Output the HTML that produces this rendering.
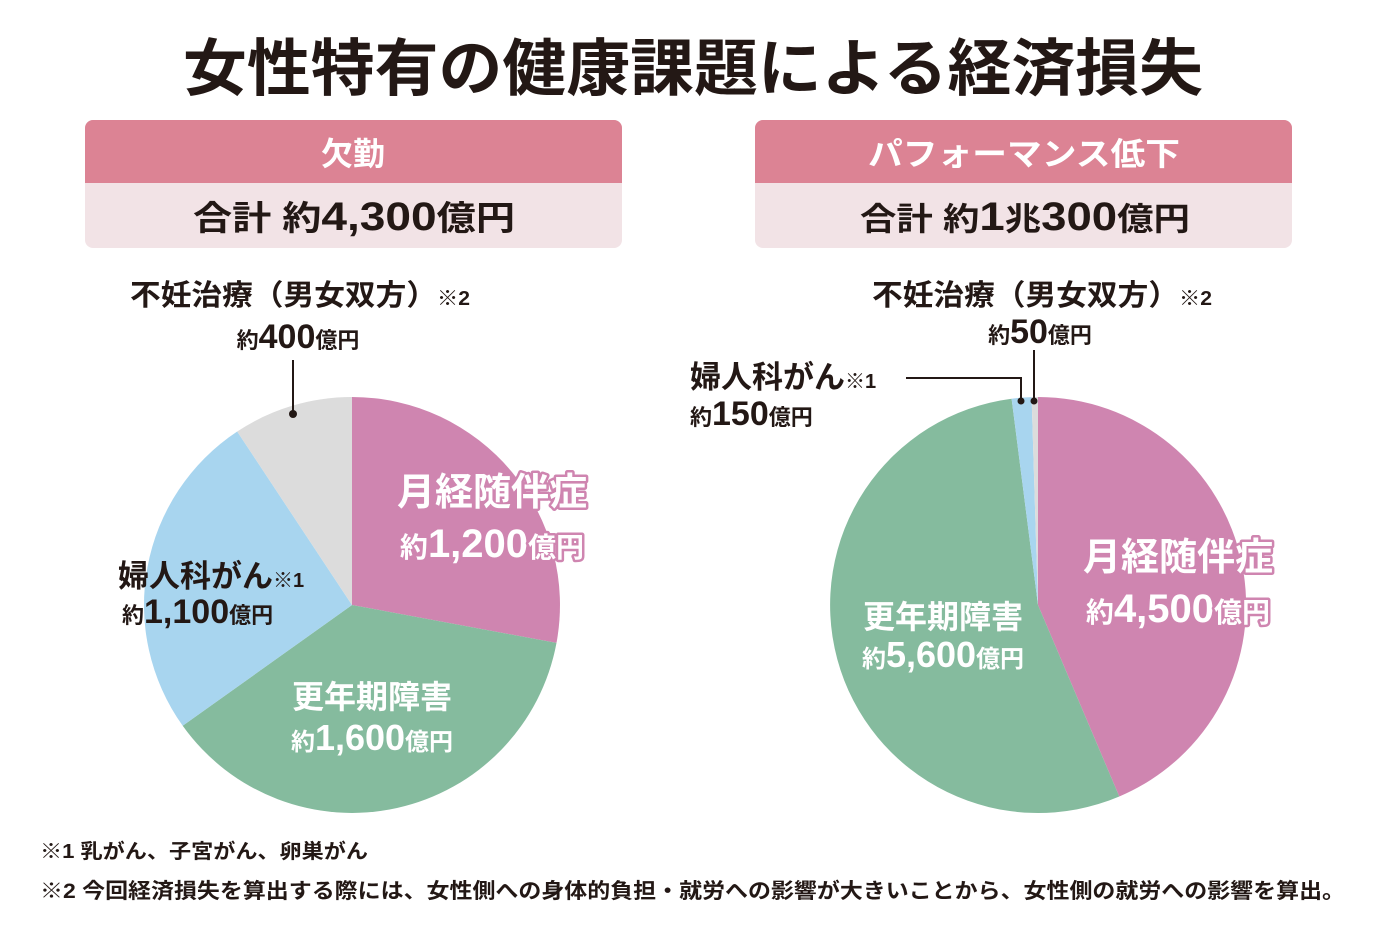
<!DOCTYPE html>
<html><head><meta charset="utf-8"><style>
html,body{margin:0;padding:0;background:#fff}
svg{display:block}
text{font-family:"Liberation Sans","Noto Sans CJK JP",sans-serif;font-weight:bold}
.o{fill:#fff;stroke:#cf85b0;stroke-width:5;paint-order:stroke;stroke-linejoin:round}
</style></head><body>
<svg width="1400" height="933" viewBox="0 0 1400 933" xmlns="http://www.w3.org/2000/svg">
<text x="183" y="90" font-size="62" textLength="1020" lengthAdjust="spacingAndGlyphs" fill="#231815">女性特有の健康課題による経済損失</text>

<rect x="85" y="120" width="537" height="128" rx="8" fill="#f2e3e6"/>
<path d="M93 120 H614 A8 8 0 0 1 622 128 V183 H85 V128 A8 8 0 0 1 93 120Z" fill="#dc8394"/>
<text x="353" y="165" font-size="32" text-anchor="middle" fill="#fff">欠勤</text>
<text x="193" y="230" font-size="34" textLength="322" lengthAdjust="spacingAndGlyphs" fill="#231815">合計 約<tspan font-size="40">4,300</tspan>億円</text>

<rect x="755" y="120" width="537" height="128" rx="8" fill="#f2e3e6"/>
<path d="M763 120 H1284 A8 8 0 0 1 1292 128 V183 H755 V128 A8 8 0 0 1 763 120Z" fill="#dc8394"/>
<text x="868" y="165" font-size="32" textLength="312" lengthAdjust="spacingAndGlyphs" fill="#fff">パフォーマンス低下</text>
<text x="860" y="230" font-size="32" textLength="330" lengthAdjust="spacingAndGlyphs" fill="#231815">合計 約<tspan font-size="40">1</tspan>兆<tspan font-size="40">300</tspan>億円</text>

<!-- left pie -->
<path d="M352 605 L352 397 A208 208 0 0 1 556.5 642.9Z" fill="#cf85b0"/>
<path d="M352 605 L556.5 642.9 A208 208 0 0 1 182.7 725.8Z" fill="#85bb9e"/>
<path d="M352 605 L182.7 725.8 A208 208 0 0 1 237.2 431.5Z" fill="#a8d5ef"/>
<path d="M352 605 L237.2 431.5 A208 208 0 0 1 352 397Z" fill="#dcdcdc"/>
<line x1="293" y1="360" x2="293" y2="414" stroke="#231815" stroke-width="2"/>
<circle cx="293" cy="414" r="4" fill="#231815"/>

<text x="130" y="305" font-size="29" textLength="340" lengthAdjust="spacingAndGlyphs" fill="#231815">不妊治療（男女双方）<tspan font-size="20">※2</tspan></text>
<text x="298" y="348" font-size="22" text-anchor="middle" fill="#231815">約<tspan font-size="34">400</tspan>億円</text>
<text x="492" y="505" font-size="38" text-anchor="middle" class="o">月経随伴症</text>
<text x="492" y="557" font-size="28" text-anchor="middle" class="o">約<tspan font-size="40">1,200</tspan>億円</text>
<text x="118" y="587" font-size="31" fill="#231815">婦人科がん<tspan font-size="20">※1</tspan></text>
<text x="122" y="623" font-size="22" fill="#231815">約<tspan font-size="34">1,100</tspan>億円</text>
<text x="372" y="708" font-size="32" text-anchor="middle" fill="#fff">更年期障害</text>
<text x="372" y="750" font-size="24" text-anchor="middle" fill="#fff">約<tspan font-size="36">1,600</tspan>億円</text>

<!-- right pie -->
<path d="M1038 605 L1038 397 A208 208 0 0 1 1119.3 796.5Z" fill="#cf85b0"/>
<path d="M1038 605 L1119.3 796.5 A208 208 0 1 1 1011.6 398.7Z" fill="#85bb9e"/>
<path d="M1038 605 L1011.6 398.7 A208 208 0 0 1 1031.6 397.1Z" fill="#a8d5ef"/>
<path d="M1038 605 L1031.6 397.1 A208 208 0 0 1 1038 397Z" fill="#dcdcdc"/>
<polyline points="906,378 1021,378 1021,401" fill="none" stroke="#231815" stroke-width="2"/>
<circle cx="1021" cy="401" r="3.5" fill="#231815"/>
<line x1="1034" y1="350" x2="1034" y2="401" stroke="#231815" stroke-width="2"/>
<circle cx="1034" cy="401" r="3.5" fill="#231815"/>

<text x="872" y="305" font-size="29" textLength="340" lengthAdjust="spacingAndGlyphs" fill="#231815">不妊治療（男女双方）<tspan font-size="20">※2</tspan></text>
<text x="1040" y="343" font-size="22" text-anchor="middle" fill="#231815">約<tspan font-size="34">50</tspan>億円</text>
<text x="690" y="388" font-size="31" fill="#231815">婦人科がん<tspan font-size="20">※1</tspan></text>
<text x="690" y="425" font-size="22" fill="#231815">約<tspan font-size="34">150</tspan>億円</text>
<text x="1178" y="570" font-size="38" text-anchor="middle" class="o">月経随伴症</text>
<text x="1178" y="622" font-size="28" text-anchor="middle" class="o">約<tspan font-size="40">4,500</tspan>億円</text>
<text x="943" y="628" font-size="32" text-anchor="middle" fill="#fff">更年期障害</text>
<text x="943" y="667" font-size="24" text-anchor="middle" fill="#fff">約<tspan font-size="36">5,600</tspan>億円</text>

<text x="40" y="858" font-size="20" textLength="328" lengthAdjust="spacingAndGlyphs" fill="#231815">※1 乳がん、子宮がん、卵巣がん</text>
<text x="40" y="898" font-size="21" textLength="1305" lengthAdjust="spacingAndGlyphs" fill="#231815">※2 今回経済損失を算出する際には、女性側への身体的負担・就労への影響が大きいことから、女性側の就労への影響を算出。</text>
</svg>
</body></html>
